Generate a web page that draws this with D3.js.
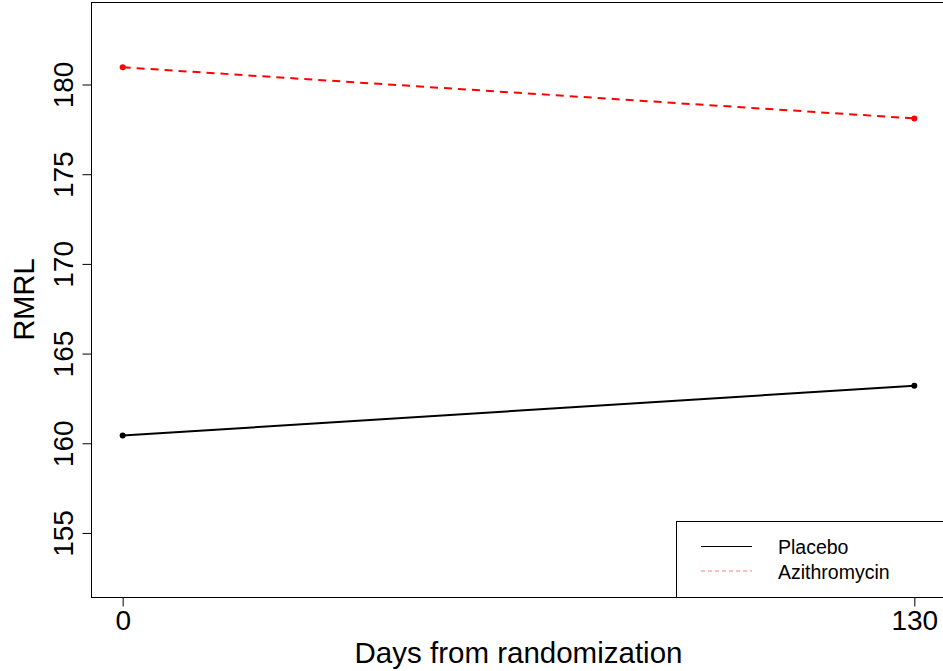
<!DOCTYPE html>
<html>
<head>
<meta charset="utf-8">
<script src="https://cdn.jsdelivr.net/npm/d3@7"></script>
<style>
  body { margin: 0; background: #fff; }
  svg { display: block; font-family: "Liberation Sans", Arial, sans-serif; }
</style>
</head>
<body>
<svg id="chart"></svg>
<script>
const width = 943, height = 671;

// data
const days = [0, 130];
const placebo = [160.43, 163.21];
const azithro = [180.96, 178.11];
const yTicks = [155, 160, 165, 170, 175, 180];
const xTicks = [0, 130];
const seriesNames = ["Placebo", "Azithromycin"];

const margin = {left: 91, top: 2, bottom: 597, right: 946};

const svg = d3.select("#chart").attr("width", width).attr("height", height);

const x = d3.scaleLinear().domain([-5.2, 135.2]).range([margin.left, margin.right]);
const y = d3.scaleLinear().domain([151.43, 184.6]).range([margin.bottom, margin.top]);

// plot box
svg.append("rect")
  .attr("x", margin.left + 0.5).attr("y", margin.top + 0.5)
  .attr("width", margin.right - margin.left).attr("height", margin.bottom - margin.top)
  .attr("fill", "none").attr("stroke", "#000").attr("stroke-width", 1);

// y axis
const yAxis = svg.append("g")
  .attr("transform", `translate(${margin.left + 0.5},0)`)
  .call(d3.axisLeft(y).tickValues(yTicks).tickSize(9).tickFormat(d3.format("d")));
yAxis.select(".domain").remove();
yAxis.selectAll("text")
  .attr("font-size", 28).attr("fill", "#000")
  .attr("x", 0).attr("y", 0).attr("dy", 0)
  .attr("text-anchor", "middle")
  .attr("transform", "translate(-19,0) rotate(-90)");

// x axis
const xAxis = svg.append("g")
  .attr("transform", `translate(0,${margin.bottom + 0.5})`)
  .call(d3.axisBottom(x).tickValues(xTicks).tickSize(9).tickFormat(d3.format("d")));
xAxis.select(".domain").remove();
xAxis.selectAll("text")
  .attr("font-size", 28).attr("fill", "#000")
  .attr("y", 32).attr("dy", 0);

// axis titles
svg.append("text")
  .attr("x", (x(0) + x(130)) / 2).attr("y", 663)
  .attr("text-anchor", "middle").attr("font-size", 29.5)
  .text("Days from randomization");
svg.append("text")
  .attr("transform", `translate(34,${(margin.top + margin.bottom) / 2}) rotate(-90)`)
  .attr("text-anchor", "middle").attr("font-size", 29)
  .text("RMRL");

// series
const line = d3.line().x(d => x(d[0])).y(d => y(d[1]));
const series = [
  {name: seriesNames[0], values: placebo, color: "#000", dash: null},
  {name: seriesNames[1], values: azithro, color: "#ff0000", dash: "8,6"}
];
series.forEach(s => {
  const pts = days.map((d, i) => [d, s.values[i]]);
  svg.append("path")
    .attr("d", line(pts))
    .attr("fill", "none").attr("stroke", s.color).attr("stroke-width", 2)
    .attr("stroke-dasharray", s.dash);
  svg.append("g").selectAll("circle")
    .data(pts).join("circle")
    .attr("cx", d => x(d[0])).attr("cy", d => y(d[1]))
    .attr("r", 3).attr("fill", s.color);
});

// legend
const lg = svg.append("g");
lg.append("rect")
  .attr("x", 676.5).attr("y", 521.5).attr("width", 280).attr("height", 76)
  .attr("fill", "#fff").attr("stroke", "#000").attr("stroke-width", 1);
const legendItems = [
  {name: seriesNames[0], color: "#000", dash: null, y: 546.5},
  {name: seriesNames[1], color: "#ff7f7f", dash: "4,3", y: 571}
];
legendItems.forEach(it => {
  lg.append("line")
    .attr("x1", 701).attr("x2", 752).attr("y1", it.y).attr("y2", it.y)
    .attr("stroke", it.color).attr("stroke-width", 1.2)
    .attr("stroke-dasharray", it.dash);
  lg.append("text")
    .attr("x", 778).attr("y", it.y + 7.5)
    .attr("font-size", 19.5).attr("fill", "#000")
    .text(it.name);
});
</script>
</body>
</html>
